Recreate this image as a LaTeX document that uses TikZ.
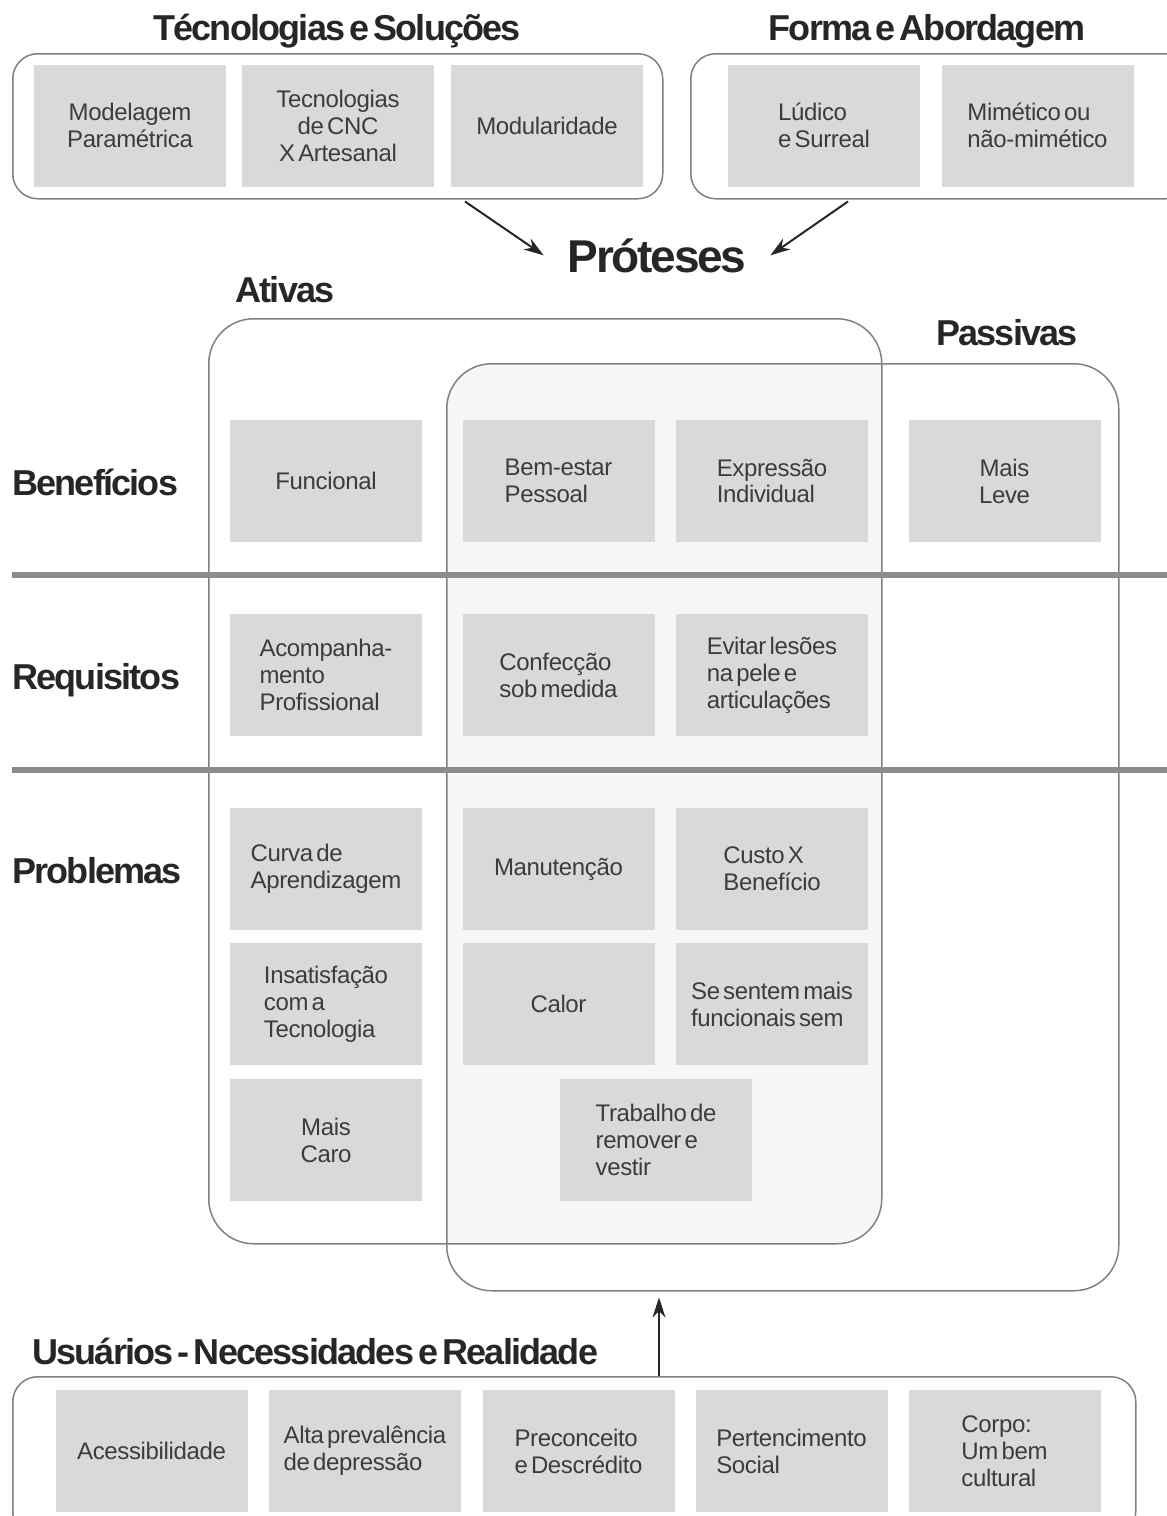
\documentclass[tikz,border=0pt]{standalone}
\usepackage{fontspec}
\setmainfont{Liberation Sans}[LetterSpace=-1.5,WordSpace=0.5]
\newfontfamily\tfont{Liberation Sans}[LetterSpace=-5,WordSpace=0.5]
\usetikzlibrary{arrows.meta,calc}
\definecolor{boxgray}{HTML}{D9D9D9}
\definecolor{txt}{HTML}{3C3C3C}
\definecolor{ttl}{HTML}{262626}
\definecolor{linegray}{HTML}{808080}
\definecolor{sepgray}{HTML}{8C8C8C}
\definecolor{overlap}{HTML}{F6F6F6}
\begin{document}
\begin{tikzpicture}[x=1pt,y=-1pt,
 gbox/.style={fill=boxgray, minimum width=192pt, minimum height=122pt, inner sep=0pt, text=txt, font=\fontsize{24}{27}\selectfont, align=left},
 cbox/.style={gbox, align=center},
 title/.style={text=ttl, font=\tfont\bfseries\fontsize{36}{40}\selectfont, inner sep=0pt},
 frame/.style={draw=linegray, line width=1.5pt, inner sep=0pt},
 sepline/.style={draw=sepgray, line width=6pt},
 arr/.style={draw=ttl, line width=2pt, -{Stealth[length=20pt,width=13pt]}}
]
\useasboundingbox (0,0) rectangle (1167,1516);

% overlap fill
\begin{scope}
 \clip[rounded corners=45pt] (208,318) rectangle (881,1243);
 \fill[overlap, rounded corners=45pt] (446,363) rectangle (1118,1290);
\end{scope}

% frames
\node[frame, rounded corners=45pt, minimum width=673pt, minimum height=925pt, anchor=north west] (ati) at (208,318) {};
\node[frame, rounded corners=45pt, minimum width=672pt, minimum height=927pt, anchor=north west] (pas) at (446,363) {};
\node[frame, rounded corners=25pt, minimum width=650pt, minimum height=145pt, anchor=north west] (tec) at (12,53) {};
\node[frame, rounded corners=25pt, minimum width=500pt, minimum height=145pt, anchor=north west] (for) at (690,53) {};
\node[frame, rounded corners=25pt, minimum width=1123pt, minimum height=160pt, anchor=north west] (usr) at (12,1376) {};

% separators
\draw[sepline] (12,575) -- (1167,575);
\draw[sepline] (12,770) -- (1167,770);

% titles
\node[title, anchor=base] (ttec) at (337,40) {Técnologias e Soluções};
\node[title, anchor=base] (tfor) at (927,40) {Forma e Abordagem};
\node[title, anchor=base, font=\tfont\bfseries\fontsize{46}{50}\selectfont, inner xsep=24pt] (prot) at (657,272) {Próteses};
\node[title, anchor=base] (tati) at (285,302) {Ativas};
\node[title, anchor=base] (tpas) at (1007,345) {Passivas};
\node[title, anchor=base west] (rben) at (12,495) {Benefícios};
\node[title, anchor=base west] (rreq) at (12,689) {Requisitos};
\node[title, anchor=base west] (rpro) at (12,883) {Problemas};
\node[title, anchor=base west] (tusr) at (32,1364) {Usuários - Necessidades e Realidade};

% top boxes
\node[cbox] (b1) at (130,125.5) {Modelagem\\Paramétrica};
\node[cbox] (b2) at (338,125.5) {Tecnologias\\de CNC\\X Artesanal};
\node[cbox] (b3) at (547,125.5) {Modularidade};
\node[gbox] (b4) at (824,125.5) {Lúdico\\e Surreal};
\node[gbox] (b5) at (1037.5,125.5) {Mimético ou\\não-mimético};

% grid boxes
\node[cbox] (f1) at (326,481) {Funcional};
\node[gbox] (f2) at (558.5,481) {Bem-estar\\Pessoal};
\node[gbox] (f3) at (772,481) {Expressão\\Individual};
\node[cbox] (f4) at (1004.5,481) {Mais\\Leve};

\node[gbox] (r1) at (326,675) {Acompanha-\\mento\\Profissional};
\node[gbox] (r2) at (558.5,675) {Confecção\\sob medida};
\node[gbox] (r3) at (772,675) {Evitar lesões\\na pele e\\articulações};

\node[gbox] (p1) at (326,869) {Curva de\\Aprendizagem};
\node[cbox] (p2) at (558.5,869) {Manutenção};
\node[gbox] (p3) at (772,869) {Custo X\\Benefício};
\node[gbox] (p4) at (326,1004) {Insatisfação\\com a\\Tecnologia};
\node[cbox] (p5) at (558.5,1004) {Calor};
\node[gbox] (p6) at (772,1004) {Se sentem mais\\funcionais sem};
\node[cbox] (p7) at (326,1140) {Mais\\Caro};
\node[gbox] (p8) at (656,1140) {Trabalho de\\remover e\\vestir};

% bottom boxes
\node[cbox] (u1) at (151.5,1451) {Acessibilidade};
\node[gbox] (u2) at (365,1451) {Alta prevalência\\de depressão};
\node[gbox] (u3) at (578.5,1451) {Preconceito\\e Descrédito};
\node[gbox] (u4) at (791.5,1451) {Pertencimento\\Social};
\node[gbox] (u5) at (1004.5,1451) {Corpo:\\Um bem\\cultural};

% arrows
\coordinate (ax1) at (465,0);
\coordinate (ax2) at (848,0);
\coordinate (ax3) at (659,0);
\coordinate (pb) at ($(pas.south)+(0,6)$);
\draw[arr] ($(tec.south -| ax1)+(0,2)$) -- (prot.west);
\draw[arr] ($(for.south -| ax2)+(0,2)$) -- (prot.east);
\draw[arr] (usr.north -| ax3) -- (pb -| ax3);
\end{tikzpicture}
\end{document}
